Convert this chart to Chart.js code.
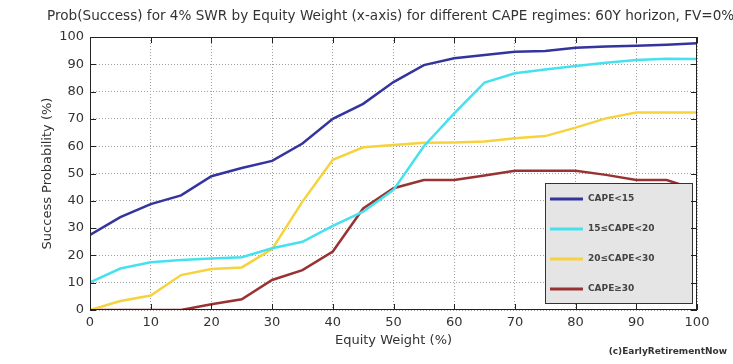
<!DOCTYPE html>
<html>
<head>
<meta charset="utf-8">
<script src="https://cdn.jsdelivr.net/npm/chart.js@4.4.1/dist/chart.umd.min.js"></script>
<style>
  html, body { margin: 0; padding: 0; background: #fff; }
  #wrap { width: 733px; height: 364px; }
</style>
</head>
<body>
<div id="wrap"><canvas id="swr-chart" width="733" height="364"></canvas></div>
<script>
// equity weight (%) on the x axis
var equityWeights = [0, 5, 10, 15, 20, 25, 30, 35, 40, 45, 50, 55, 60, 65, 70, 75, 80, 85, 90, 95, 100];

// success probability (%) per CAPE regime
var capeBelow15 = [27.5, 34, 38.8, 42, 49, 52, 54.6, 61, 70, 75.5, 83.5, 89.7, 92.2, 93.4, 94.6, 94.9, 96.1, 96.5, 96.8, 97.2, 97.7];
var cape15to20 = [10.1, 15.2, 17.5, 18.3, 18.9, 19.3, 22.6, 25, 30.8, 36, 44, 60, 72, 83.3, 86.7, 88.1, 89.4, 90.6, 91.6, 92, 91.9];
var cape20to30 = [0, 3.3, 5.3, 12.8, 15, 15.6, 22.3, 39.7, 55, 59.6, 60.4, 61.3, 61.4, 61.7, 62.9, 63.7, 66.8, 70.2, 72.3, 72.3, 72.3];
var capeAbove30 = [0, 0, 0, 0, 2.1, 3.9, 11, 14.6, 21.4, 37.2, 44.6, 47.6, 47.6, 49.3, 51, 51, 51, 49.5, 47.6, 47.6, 44];

var seriesLabels = ['CAPE<15', '15\u2264CAPE<20', '20\u2264CAPE<30', 'CAPE\u226530'];
var seriesColors = ['#34349e', '#45e1ef', '#f6d33c', '#993232'];
var xTicks = [0, 10, 20, 30, 40, 50, 60, 70, 80, 90, 100];
var yTicks = [0, 10, 20, 30, 40, 50, 60, 70, 80, 90, 100];

var titleText = 'Prob(Success) for 4% SWR by Equity Weight (x-axis) for different CAPE regimes: 60Y horizon, FV=0%';
var creditText = '(c)EarlyRetirementNow';

function toPoints(values) {
  return equityWeights.map(function (w, i) { return { x: w, y: values[i] }; });
}

var allSeries = [capeBelow15, cape15to20, cape20to30, capeAbove30];
var datasets = allSeries.map(function (vals, i) {
  return {
    label: seriesLabels[i],
    data: toPoints(vals),
    borderColor: seriesColors[i],
    backgroundColor: seriesColors[i],
    borderWidth: 2.5,
    pointRadius: 0,
    tension: 0,
    fill: false
  };
});

// legend box, frame, inner ticks, title and credit
var decorPlugin = {
  id: 'decor',
  afterDatasetsDraw: function (chart) {
    var ctx = chart.ctx;
    var a = chart.chartArea;
    var xs = chart.scales.x, ys = chart.scales.y;
    ctx.save();

    // legend box
    var bx = 545, by = 183, bw = 147, bh = 120;
    ctx.fillStyle = '#fff';
    ctx.fillRect(bx + bw, by, a.right - bx - bw, bh + 1);
    ctx.fillStyle = '#e5e5e5';
    ctx.fillRect(bx, by, bw, bh);
    ctx.strokeStyle = '#333';
    ctx.lineWidth = 1;
    ctx.strokeRect(bx + 0.5, by + 0.5, bw, bh);
    ctx.font = 'bold 9px "DejaVu Sans"';
    ctx.textBaseline = 'middle';
    ctx.textAlign = 'left';
    seriesLabels.forEach(function (lab, i) {
      var ry = by + 16 + i * 30;
      ctx.strokeStyle = seriesColors[i];
      ctx.lineWidth = 3;
      ctx.beginPath();
      ctx.moveTo(bx + 5, ry); ctx.lineTo(bx + 38, ry);
      ctx.stroke();
      ctx.fillStyle = '#444';
      ctx.fillText(lab, bx + 43, ry);
    });

    // frame and inward ticks
    ctx.strokeStyle = '#222';
    ctx.lineWidth = 1;
    ctx.strokeRect(a.left + 0.5, a.top + 0.5, a.right - a.left - 1, a.bottom - a.top - 1);
    ctx.beginPath();
    xTicks.forEach(function (t) {
      var px = Math.round(xs.getPixelForValue(t)) + 0.5;
      ctx.moveTo(px, a.bottom); ctx.lineTo(px, a.bottom - 6);
      ctx.moveTo(px, a.top); ctx.lineTo(px, a.top + 6);
    });
    yTicks.forEach(function (t) {
      var py = Math.round(ys.getPixelForValue(t)) + 0.5;
      ctx.moveTo(a.left, py); ctx.lineTo(a.left + 6, py);
      ctx.moveTo(a.right, py); ctx.lineTo(a.right - 6, py);
    });
    ctx.stroke();

    // title
    ctx.fillStyle = '#333';
    ctx.textAlign = 'left';
    ctx.font = '13.6px "DejaVu Sans"';
    ctx.fillText(titleText, 47, 16);

    // credit
    ctx.font = 'bold 9px "DejaVu Sans"';
    ctx.fillStyle = '#333';
    ctx.textAlign = 'right';
    ctx.fillText(creditText, 727, 352);
    ctx.restore();
  }
};

new Chart('swr-chart', {
  type: 'line',
  data: { datasets: datasets },
  options: {
    responsive: false,
    animation: false,
    layout: { padding: { top: 37, right: 36, left: 0, bottom: 0 } },
    plugins: {
      legend: { display: false },
      tooltip: { enabled: false },
      title: { display: false }
    },
    scales: {
      x: {
        type: 'linear',
        min: 0,
        max: 100,
        ticks: {
          stepSize: 10,
          color: '#333',
          padding: 5,
          font: { family: 'DejaVu Sans', size: 13 }
        },
        grid: { color: '#a0a0a0', lineWidth: 1, drawTicks: false },
        border: { display: false, dash: [1, 2] },
        title: {
          display: true,
          text: 'Equity Weight (%)',
          color: '#333',
          padding: { top: 0, bottom: 16 },
          font: { family: 'DejaVu Sans', size: 13 }
        },
        afterFit: function (scale) { scale.height = 54; }
      },
      y: {
        min: 0,
        max: 100,
        ticks: {
          stepSize: 10,
          color: '#333',
          padding: 6,
          font: { family: 'DejaVu Sans', size: 13 }
        },
        grid: { color: '#a0a0a0', lineWidth: 1, drawTicks: false },
        border: { display: false, dash: [1, 2] },
        title: {
          display: true,
          text: 'Success Probability (%)',
          color: '#333',
          padding: { top: 40, bottom: 0 },
          font: { family: 'DejaVu Sans', size: 13 }
        },
        afterFit: function (scale) { scale.width = 90; }
      }
    }
  },
  plugins: [decorPlugin]
});
</script>
</body>
</html>
